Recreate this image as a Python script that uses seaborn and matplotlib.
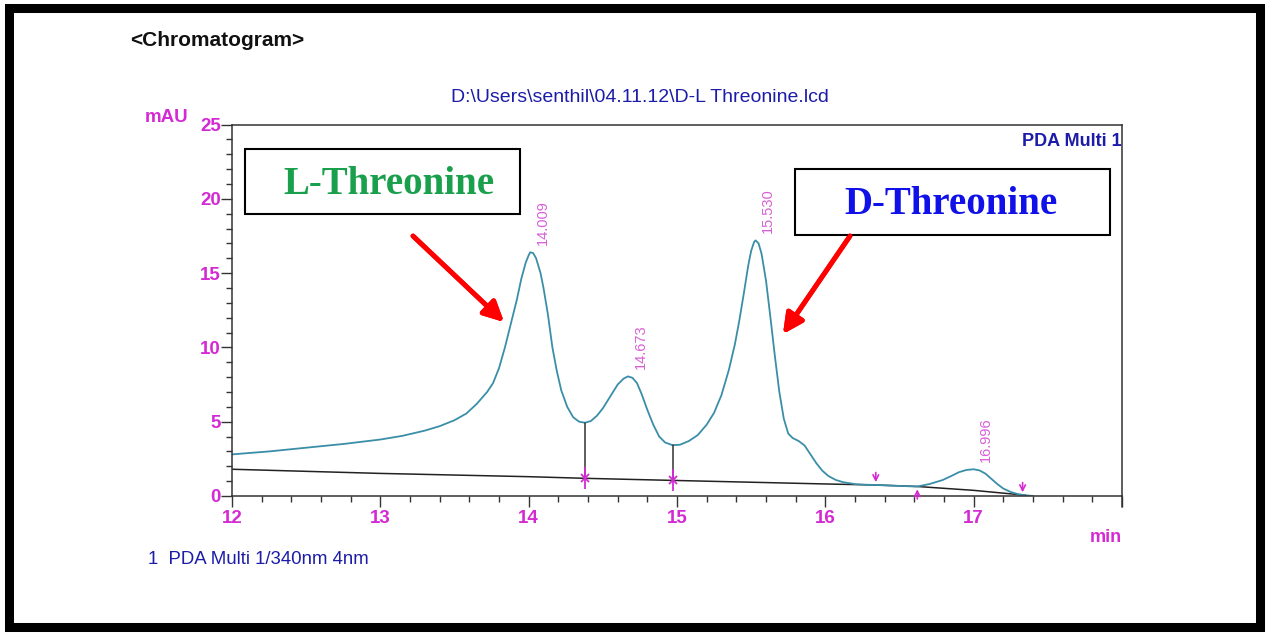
import numpy as np
import pandas as pd
import seaborn as sns
import matplotlib.pyplot as plt
from matplotlib.patches import Rectangle

tiempo = [12.0, 12.25, 12.5, 12.75, 13.0, 13.15, 13.3, 13.4, 13.5, 13.58, 13.65, 13.72,
          13.76, 13.8, 13.84, 13.88, 13.92, 13.95, 13.98, 14.0, 14.01, 14.03, 14.05, 14.08,
          14.1, 14.13, 14.16, 14.19, 14.22, 14.26, 14.3, 14.34, 14.38, 14.42, 14.46, 14.5,
          14.55, 14.6, 14.64, 14.67, 14.7, 14.73, 14.76, 14.8, 14.84, 14.88, 14.92, 14.97,
          15.02, 15.08, 15.14, 15.2, 15.25, 15.3, 15.35, 15.39, 15.42, 15.45, 15.48, 15.5,
          15.52, 15.53, 15.55, 15.57, 15.6, 15.63, 15.66, 15.69, 15.72, 15.75, 15.78, 15.82,
          15.86, 15.9, 15.94, 15.98, 16.02, 16.07, 16.12, 16.2, 16.27, 16.34, 16.45, 16.55,
          16.62, 16.7, 16.79, 16.85, 16.9, 16.95, 17.0, 17.04, 17.08, 17.12, 17.16, 17.2,
          17.25, 17.3, 17.36, 17.4]
senal = [2.8, 3.0, 3.25, 3.5, 3.8, 4.05, 4.4, 4.7, 5.1, 5.55, 6.2, 7.0,
         7.6, 8.6, 10.0, 11.6, 13.2, 14.6, 15.7, 16.2, 16.4, 16.35, 16.0, 15.0,
         14.0, 12.2, 10.0, 8.4, 7.1, 6.0, 5.3, 5.0, 4.93, 5.05, 5.4, 5.9,
         6.7, 7.5, 7.9, 8.05, 7.95, 7.6, 6.9, 5.8, 4.8, 4.0, 3.6, 3.42,
         3.45, 3.7, 4.1, 4.8, 5.6, 6.8, 8.5, 10.2, 11.8, 13.6, 15.5, 16.5,
         17.1, 17.2, 17.0, 16.3, 14.5, 12.0, 9.4, 7.0, 5.2, 4.2, 3.9, 3.7,
         3.4, 2.8, 2.2, 1.7, 1.35, 1.08, 0.93, 0.8, 0.76, 0.74, 0.7, 0.66,
         0.64, 0.8, 1.07, 1.35, 1.6, 1.75, 1.8, 1.72, 1.5, 1.15, 0.8, 0.5,
         0.27, 0.12, 0.04, 0.0]

# Línea base de integración
base_t = [12.0, 13.0, 14.0, 14.38, 14.97, 16.0, 16.34, 16.62, 17.0, 17.35]
base_mau = [1.8, 1.52, 1.3, 1.19, 1.05, 0.81, 0.74, 0.64, 0.38, 0.05]

# Picos
picos_rt = [14.009, 14.673, 15.530, 16.996]
picos_h = [16.4, 8.05, 17.2, 1.8]
picos_lbl = ['14.009', '14.673', '15.530', '16.996']

# Cortes verticales (tiempo, valle, base)
corte_t = [14.38, 14.97]
corte_valle = [4.93, 3.42]
corte_base = [1.19, 1.05]

# Marcas de inicio/fin (tiempo, base, dirección)
marca_t = [16.34, 16.62, 17.33]
marca_base = [0.74, 0.64, 0.06]
marca_dir = ['abajo', 'arriba', 'abajo']

df = pd.DataFrame({'min': tiempo, 'mAU': senal})
df_base = pd.DataFrame({'min': base_t, 'mAU': base_mau})

sns.set_style('white')
plt.rcParams['font.family'] = ['Liberation Sans', 'DejaVu Sans']

MAG = '#d42ad4'
AZUL = '#1c1ca8'
W, H = 1280, 642

fig = plt.figure(figsize=(12.8, 6.42), dpi=100)
ax = fig.add_axes([232 / W, (H - 496) / H, 890 / W, 371.5 / H])

sns.lineplot(data=df_base, x='min', y='mAU', ax=ax, color='#222222', lw=1.1)
sns.lineplot(data=df, x='min', y='mAU', ax=ax, color='#3a8ea8', lw=1.3)

for t, v, b in zip(corte_t, corte_valle, corte_base):
    ax.plot([t, t], [b, v], color='#333333', lw=1.1)
    ax.plot([t], [b], marker='|', ms=16, color=MAG, mew=1.3)
    ax.plot([t], [b], marker='x', ms=6, color=MAG, mew=1.3)

for t, b, d in zip(marca_t, marca_base, marca_dir):
    off = 11 if d == 'abajo' else -11
    ax.annotate('', xy=(t, b), xytext=(0, off), textcoords='offset points',
                arrowprops=dict(arrowstyle='->', color=MAG, lw=1.2, mutation_scale=10))

for t, h, s in zip(picos_rt, picos_h, picos_lbl):
    ax.annotate(s, xy=(t, h), xytext=(9, 5), textcoords='offset points', rotation=90,
                ha='center', va='bottom', fontsize=10.5, color='#d860d8')

ax.set_xlim(12, 18)
ax.set_ylim(0, 25)
ax.set_xticks(range(12, 19))
ax.set_xticklabels(['12', '13', '14', '15', '16', '17', ''])
ax.set_xticks(np.arange(12, 18.01, 0.2), minor=True)
ax.set_yticks(range(0, 26, 5))
ax.set_yticks(range(0, 26), minor=True)
ax.tick_params(axis='both', which='major', direction='out', length=8, width=1,
               color='#333333', labelcolor=MAG, labelsize=13.5, pad=2)
ax.tick_params(axis='y', which='major', pad=0)
ax.tick_params(axis='both', which='minor', direction='out', length=4, width=1,
               color='#333333')
ax.tick_params(axis='x', bottom=True, which='both')
ax.tick_params(axis='y', left=True, which='both')
for lbl in ax.get_xticklabels() + ax.get_yticklabels():
    lbl.set_fontweight('bold')
for sp in ax.spines.values():
    sp.set_color('#333333')
    sp.set_linewidth(1.1)
ax.plot([18, 18], [0, -0.75], color='#333333', lw=1.1, clip_on=False)
ax.set_xlabel('')
ax.set_ylabel('')

ax.text(790 / 890, 0.955, 'PDA Multi 1', transform=ax.transAxes, ha='left', va='center',
        fontsize=13, fontweight='bold', color=AZUL, clip_on=True)

# Textos de la figura
fig.text(130 / W, 1 - 40 / H, '<Chromatogram>', fontsize=15, fontweight='bold',
         ha='left', va='center', color='#111111')
fig.text(640 / W, 1 - 97 / H, r'D:\Users\senthil\04.11.12\D-L Threonine.lcd',
         fontsize=14, ha='center', va='center', color=AZUL)
fig.text(145 / W, 1 - 118 / H, 'mAU', fontsize=13.5, fontweight='bold', color=MAG,
         ha='left', va='center')
fig.text(1122 / W, 1 - 538 / H, 'min', fontsize=13, fontweight='bold', color=MAG,
         ha='right', va='center')
fig.text(148 / W, 1 - 560 / H, '1  PDA Multi 1/340nm 4nm', fontsize=13.4,
         ha='left', va='center', color=AZUL)

# Cajas de anotación
fig.add_artist(Rectangle((245 / W, (H - 214) / H), 275 / W, 65 / H, transform=fig.transFigure,
                         fill=False, ec='black', lw=1.5))
fig.add_artist(Rectangle((795 / W, (H - 235) / H), 315 / W, 66 / H, transform=fig.transFigure,
                         fill=False, ec='black', lw=1.5))
fig.text(389 / W, 1 - 184 / H, 'L-Threonine', fontsize=28, fontweight='bold',
         family=['Liberation Serif', 'DejaVu Serif'], color='#1aa04c', ha='center', va='center')
fig.text(951 / W, 1 - 204 / H, 'D-Threonine', fontsize=28, fontweight='bold',
         family=['Liberation Serif', 'DejaVu Serif'], color='#1010e8', ha='center', va='center')

# Flechas rojas
for xy_cola, xy_punta in [((413, H - 236), (504, H - 322)), ((850, H - 236), (783, H - 334))]:
    fig.add_artist(plt.annotate('', xy=xy_punta, xytext=xy_cola, xycoords='figure pixels',
                                textcoords='figure pixels',
                                arrowprops=dict(arrowstyle='-|>', color='red', lw=3.5,
                                                mutation_scale=30, shrinkA=0, shrinkB=0)))

# Marco negro exterior
fig.add_artist(Rectangle((8.5 / W, (H - 626.5) / H), 1251 / W, 619 / H, transform=fig.transFigure,
                         fill=False, ec='black', lw=6.5))

fig.savefig('out.png', dpi=100, facecolor='white')
